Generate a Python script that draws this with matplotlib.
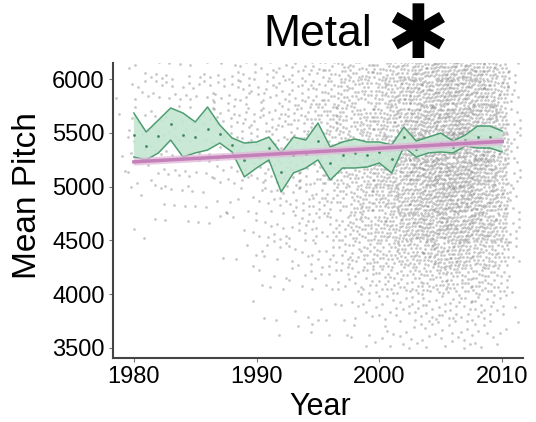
import numpy as np
import matplotlib
matplotlib.use("Agg")
from matplotlib import pyplot as plt

plt.rcParams['font.family'] = ['Liberation Sans', 'DejaVu Sans']

years = list(range(1980, 2011))
# per-year confidence band
ci_upper = [5684, 5508, 5619, 5731, 5684, 5601, 5740, 5573, 5452, 5405,
            5415, 5461, 5313, 5461, 5433, 5591, 5368, 5415, 5443, 5415,
            5415, 5387, 5554, 5424, 5461, 5498, 5424, 5480, 5563, 5563, 5517]
ci_lower = [5275, 5248, 5313, 5433, 5275, 5313, 5340, 5405, 5322, 5090,
            5173, 5248, 4950, 5127, 5173, 5248, 5062, 5173, 5173, 5182,
            5220, 5127, 5368, 5275, 5313, 5322, 5313, 5378, 5359, 5359, 5322]

# linear fit (pink)
fit_years = [1980, 2010]
fit_values = [5230, 5420]
fit_ci = 35

# song cloud: approximate number of visible songs per year
cloud_years = list(range(1979, 2012))
cloud_counts = [4, 18, 18, 20, 20, 22, 22, 25, 28, 30, 35, 42, 48, 55, 60, 70,
                80, 100, 120, 140, 165, 190, 215, 250, 290, 320, 340, 350, 340,
                310, 270, 210, 50]
pitch_bins = [3500, 3750, 4000, 4250, 4500, 4750, 5000, 5250, 5500, 5750, 6000]
# share of songs per pitch bin, early / middle / late years
share_early = [0.0, 0.0, 0.01, 0.02, 0.04, 0.08, 0.13, 0.18, 0.2, 0.19, 0.15]
share_mid = [0.01, 0.02, 0.04, 0.06, 0.08, 0.1, 0.13, 0.15, 0.16, 0.13, 0.12]
share_late = [0.015, 0.025, 0.05, 0.08, 0.11, 0.12, 0.13, 0.13, 0.12, 0.11, 0.10]

fig = plt.figure(figsize=(5.36, 4.22), dpi=100)
ax = fig.add_axes([113/536, 1-358/422, 410/536, 295/422])

# spread each cell's songs evenly inside it
px = []
py = []
k = 0
for yr, n in zip(cloud_years, cloud_counts):
    if yr < 1990:
        share = share_early
    elif yr < 1998:
        share = share_mid
    else:
        share = share_late
    for lo, s in zip(pitch_bins, share):
        m = int(round(n*s))
        for i in range(m):
            k += 1
            px.append(yr - 0.5 + (k*0.7548776662) % 1.0)
            py.append(lo + ((k*0.5698402910) % 1.0)*250)
ax.scatter(px, py, s=4, color='#4a4a4a', alpha=0.3, linewidths=0, zorder=1)

ax.fill_between(years, ci_lower, ci_upper, color='#c4e6d1', alpha=0.9,
                edgecolor='none', zorder=2)
ax.plot(years, ci_upper, color='#4f9e72', lw=1.1, zorder=3)
ax.plot(years, ci_lower, color='#4f9e72', lw=1.1, zorder=3)
means = [(u+l)/2 for u, l in zip(ci_upper, ci_lower)]
ax.scatter(years, means, s=4, color='#3d8a5e', zorder=3, linewidths=0)

fv = np.array(fit_values)
ax.fill_between(fit_years, fv-fit_ci, fv+fit_ci, color='#e3b8da', alpha=0.75,
                edgecolor='none', zorder=4)
ax.plot(fit_years, fit_values, color='#c480b8', lw=2.5, zorder=5)

ax.set_xlim(1978.3, 2011.7)
ax.set_ylim(3407, 6149)
ax.set_xticks([1980, 1990, 2000, 2010])
ax.set_yticks([3500, 4000, 4500, 5000, 5500, 6000])
ax.tick_params(labelsize=17, length=3, width=0.8, color='#777777', pad=3)
for s in ['top', 'right']:
    ax.spines[s].set_visible(False)
for s in ['left', 'bottom']:
    ax.spines[s].set_color('#444444')
    ax.spines[s].set_linewidth(1.5)

fig.text(28/536, 1-196/422, 'Mean Pitch', rotation=90, fontsize=24,
         ha='center', va='center')
fig.text(320/536, 1-407/422, 'Year', fontsize=22, ha='center', va='center')
fig.text(318/536, 1-34/422, 'Metal', fontsize=32, ha='center', va='center')
fig.text(418/536, 1-38/422, '\u2731', fontsize=54, ha='center', va='center',
         family=['DejaVu Sans'])

plt.savefig('out.png', dpi=100)
